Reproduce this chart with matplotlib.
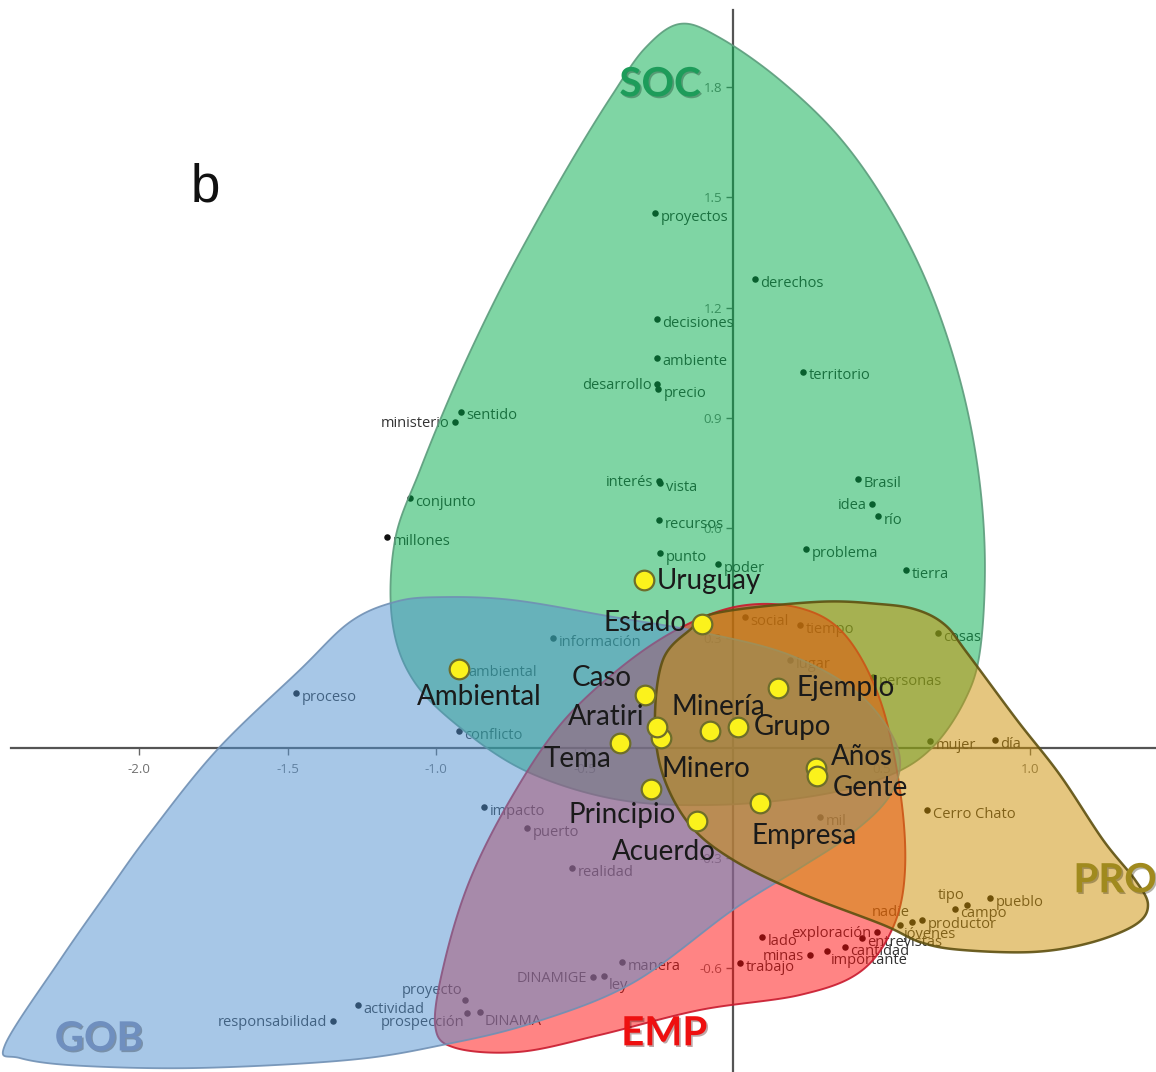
import numpy as np
import matplotlib
matplotlib.use("Agg")
import matplotlib.pyplot as plt
from matplotlib.patches import Polygon
import matplotlib.patheffects as pe

plt.rcParams['font.family'] = ['Open Sans', 'DejaVu Sans']

# --- small word points, per group ---
soc_words = ["proyectos", "derechos", "decisiones", "ambiente", "desarrollo", "precio",
             "territorio", "sentido", "ministerio", "interés", "vista", "conjunto",
             "millones", "recursos", "punto", "poder", "Brasil", "idea", "río",
             "problema", "tierra"]
soc_x = [-0.263, 0.074, -0.256, -0.256, -0.256, -0.253, 0.236, -0.916, -0.936, -0.249,
         -0.246, -1.088, -1.165, -0.249, -0.246, -0.051, 0.421, 0.468, 0.488, 0.246, 0.582]
soc_y = [1.458, 1.278, 1.169, 1.063, 0.992, 0.978, 1.025, 0.916, 0.888, 0.728,
         0.722, 0.681, 0.575, 0.621, 0.531, 0.501, 0.733, 0.665, 0.632, 0.542, 0.485]

pro_words = ["cosas", "personas", "lugar", "social", "tiempo", "mujer", "día",
             "Cerro Chato", "pueblo", "tipo", "campo", "productor", "nadie", "jóvenes"]
pro_x = [0.690, 0.471, 0.192, 0.040, 0.226, 0.663, 0.882, 0.653, 0.865, 0.788,
         0.747, 0.636, 0.603, 0.562]
pro_y = [0.313, 0.193, 0.240, 0.357, 0.335, 0.019, 0.022, -0.169, -0.409, -0.428,
         -0.439, -0.469, -0.475, -0.482]

emp_words = ["mil", "exploración", "lado", "minas", "trabajo", "importante",
             "entrevistas", "cantidad"]
emp_x = [0.293, 0.485, 0.098, 0.259, 0.024, 0.316, 0.434, 0.377]
emp_y = [-0.188, -0.501, -0.515, -0.564, -0.586, -0.553, -0.518, -0.542]

gob_words = ["información", "ambiental", "proceso", "conflicto", "impacto", "puerto",
             "realidad", "manera", "DINAMIGE", "ley", "proyecto", "actividad",
             "prospección", "DINAMA", "responsabilidad"]
gob_x = [-0.606, -0.909, -1.471, -0.923, -0.838, -0.694, -0.542, -0.374, -0.471,
         -0.434, -0.902, -1.263, -0.896, -0.852, -1.347]
gob_y = [0.300, 0.218, 0.150, 0.046, -0.161, -0.218, -0.327, -0.583, -0.624,
         -0.621, -0.687, -0.700, -0.722, -0.719, -0.744]

# --- main categories (yellow points) ---
big_words = ["Uruguay", "Estado", "Ambiental", "Caso", "Ejemplo", "Minero", "Aratiri",
             "Minería", "Grupo", "Tema", "Años", "Gente", "Principio", "Empresa", "Acuerdo"]
big_x = [-0.300, -0.104, -0.923, -0.296, 0.152, -0.242, -0.256, -0.077, 0.017,
         -0.380, 0.279, 0.283, -0.276, 0.091, -0.121]
big_y = [0.458, 0.338, 0.215, 0.144, 0.163, 0.027, 0.057, 0.046, 0.057,
         0.014, -0.054, -0.076, -0.112, -0.150, -0.199]

# --- group hulls (control points of the outlines) ---
soc_hx = [-0.178, -0.044, 0.158, 0.360, 0.529, 0.663, 0.764, 0.825, 0.848, 0.832, 0.781,
          0.673, 0.529, 0.293, -0.044, -0.380, -0.684, -0.909, -1.077, -1.148, -1.138,
          -1.054, -0.936, -0.801, -0.667, -0.532, -0.407, -0.296]
soc_hy = [1.973, 1.935, 1.820, 1.662, 1.466, 1.248, 1.003, 0.757, 0.512, 0.267, 0.131,
          0.003, -0.074, -0.128, -0.155, -0.142, -0.068, 0.049, 0.185, 0.349, 0.567,
          0.757, 0.989, 1.221, 1.425, 1.616, 1.779, 1.907]
gob_hx = [-2.451, -2.266, -2.108, -1.963, -1.737, -1.458, -1.290, -1.138, -0.987, -0.741,
          -0.404, -0.111, 0.192, 0.428, 0.556, 0.529, 0.394, 0.226, 0.000, -0.337, -0.673,
          -0.976, -1.290, -1.795, -2.199, -2.401]
gob_hy = [-0.809, -0.578, -0.395, -0.232, -0.005, 0.213, 0.343, 0.398, 0.411, 0.403,
          0.357, 0.316, 0.253, 0.144, -0.005, -0.128, -0.237, -0.327, -0.441, -0.640,
          -0.749, -0.809, -0.850, -0.872, -0.866, -0.845]
emp_hx = [-1.003, -0.970, -0.886, -0.751, -0.582, -0.380, -0.178, 0.024, 0.226, 0.377,
          0.495, 0.562, 0.579, 0.539, 0.428, 0.226, -0.111, -0.448, -0.717, -0.936]
emp_hy = [-0.755, -0.578, -0.360, -0.142, 0.063, 0.218, 0.327, 0.387, 0.381, 0.308,
          0.131, -0.114, -0.332, -0.488, -0.610, -0.673, -0.714, -0.782, -0.828, -0.817]
pro_hx = [-0.263, -0.236, -0.145, -0.054, 0.283, 0.495, 0.620, 0.714, 0.788, 0.956,
          1.101, 1.246, 1.354, 1.397, 1.354, 1.202, 1.010, 0.764, 0.630, 0.505, 0.226,
          0.000, -0.145, -0.236]
pro_hy = [0.076, 0.240, 0.322, 0.368, 0.398, 0.392, 0.376, 0.335, 0.259, 0.076,
          -0.074, -0.251, -0.360, -0.428, -0.482, -0.531, -0.556, -0.550, -0.529, -0.482,
          -0.395, -0.305, -0.210, -0.074]

xticks = [-2.0, -1.5, -1.0, -0.5, 0.5, 1.0]
yticks = [-0.6, -0.3, 0.3, 0.6, 0.9, 1.2, 1.5, 1.8]

# label placement codes for the small words
soc_side = "rrrrlrrrllrrrrrrrlrrr"
pro_side = ["r", "r", "r", "r", "r", "r", "r", "r", "r", "ul", "r", "r", "ul", "dr"]
emp_side = ["r", "l", "r", "l", "r", "dr", "r", "r"]
gob_side = ["r", "r", "r", "r", "r", "r", "r", "r", "l", "dr", "ul", "r", "dl", "dr", "l"]
side_off = {"r": (4, -3, "left"), "l": (-4, -1, "right"), "ul": (-2, 7, "right"),
            "dl": (-2, -7, "right"), "dr": (3, -7, "left")}

big_off = [(9, -1, "left"), (-11, 1, "right"), (15, -20, "center"), (-10, 12, "right"),
           (13, 0, "left"), (32, -22, "center"), (-9, 7, "right"), (6, 17, "center"),
           (11, 0, "left"), (-6, -12, "right"), (11, 8, "left"), (11, -9, "left"),
           (-21, -19, "center"), (32, -24, "center"), (-24, -22, "center")]


def smooth_closed(xs, ys, n=40):
    p = np.column_stack([xs, ys])
    m = len(p)
    t = np.linspace(0, 1, n, endpoint=False)[:, None]
    segs = []
    for i in range(m):
        p0, p1, p2, p3 = p[i - 1], p[i], p[(i + 1) % m], p[(i + 2) % m]
        segs.append(0.5 * (2 * p1 + (-p0 + p2) * t + (2 * p0 - 5 * p1 + 4 * p2 - p3) * t ** 2
                           + (-p0 + 3 * p1 - 3 * p2 + p3) * t ** 3))
    return np.vstack(segs)


fig = plt.figure(figsize=(11.56, 10.72), dpi=100)
ax = fig.add_axes([0, 0, 1, 1])
ax.set_xlim(-2.468, 1.424)
ax.set_ylim(-0.883, 2.038)

# axes through the origin
ax.set_axisbelow(True)
for s in ["top", "right"]:
    ax.spines[s].set_visible(False)
ax.spines["left"].set_position(("data", 0))
ax.spines["bottom"].set_position(("data", 0))
ax.spines["bottom"].set_bounds(-2.43, 1.424)
ax.spines["left"].set_bounds(-0.883, 2.01)
for s in ["left", "bottom"]:
    ax.spines[s].set_color("#555555")
    ax.spines[s].set_linewidth(1.6)
    ax.spines[s].set_zorder(0.6)
ax.set_xticks(xticks)
ax.set_xticklabels([f"{v:.1f}" for v in xticks])
ax.set_yticks(yticks)
ax.set_yticklabels([f"{v:.1f}" for v in yticks])
ax.tick_params(direction="out", length=5, width=1, color="#666666",
               labelsize=9.5, labelcolor="#707070", pad=3)
ax.tick_params(axis="x", pad=6)

# small words (drawn under the hulls so they get tinted)
groups = [(soc_words, soc_x, soc_y, list(soc_side)),
          (pro_words, pro_x, pro_y, pro_side),
          (emp_words, emp_x, emp_y, emp_side),
          (gob_words, gob_x, gob_y, gob_side)]
for words, xs, ys, sides in groups:
    ax.scatter(xs, ys, s=22, color="#111111", zorder=1, linewidths=0)
    for w, x, y, sd in zip(words, xs, ys, sides):
        dx, dy, ha = side_off[sd]
        ax.annotate(w, (x, y), xytext=(dx, dy), textcoords="offset points",
                    ha=ha, va="center", fontsize=10.5, color="#333333", zorder=1)

# hulls: fill + outline
hulls = [(soc_hx, soc_hy, "#00ad4b", "#5c9c7c", 1.3, 2),
         (emp_hx, emp_hy, "#ff0a0a", "#c81a2e", 1.4, 3),
         (gob_hx, gob_hy, "#5191d1", "#7090b4", 1.3, 4),
         (pro_hx, pro_hy, "#cd8f00", "#5e5010", 1.8, 5)]
for hx, hy, fc, ec, lw, z in hulls:
    pts = smooth_closed(hx, hy)
    ax.add_patch(Polygon(pts, closed=True, facecolor=fc, alpha=0.5, edgecolor="none",
                         zorder=z))
    ax.add_patch(Polygon(pts, closed=True, facecolor="none", edgecolor=ec, lw=lw,
                         alpha=0.9, zorder=z))

# main categories
ax.scatter(big_x, big_y, s=200, color="#fbf21c", edgecolor="#6e6e2a", linewidths=1.6,
           zorder=6)
for w, x, y, (dx, dy, ha) in zip(big_words, big_x, big_y, big_off):
    ax.annotate(w, (x, y), xytext=(dx, dy), textcoords="offset points", ha=ha,
                va="center", fontsize=20, color="#1a1a1a", family=["Lato", "DejaVu Sans"],
                zorder=7)

# hull names
shadow = [pe.withSimplePatchShadow(offset=(1.2, -1.2), alpha=0.35)]
ax.text(-0.246, 1.807, "SOC", fontsize=29, fontweight="bold", color="#1d9c5a",
        family=["Lato", "DejaVu Sans"], ha="center", va="center", zorder=8, path_effects=shadow)
ax.text(-2.135, -0.793, "GOB", fontsize=29, fontweight="bold", color="#6f8fbf",
        family=["Lato", "DejaVu Sans"], ha="center", va="center", zorder=8, path_effects=shadow)
ax.text(-0.232, -0.779, "EMP", fontsize=29, fontweight="bold", color="#ee1010",
        family=["Lato", "DejaVu Sans"], ha="center", va="center", zorder=8, path_effects=shadow)
ax.text(1.286, -0.362, "PRO", fontsize=29, fontweight="bold", color="#a08a1e",
        family=["Lato", "DejaVu Sans"], ha="center", va="center", zorder=8, path_effects=shadow)

fig.text(0.1773, 0.8116, "b", fontsize=38, color="#111111",
         family=["Liberation Sans", "DejaVu Sans"], ha="center", va="baseline")

fig.savefig("out.png", dpi=100, facecolor="white")
